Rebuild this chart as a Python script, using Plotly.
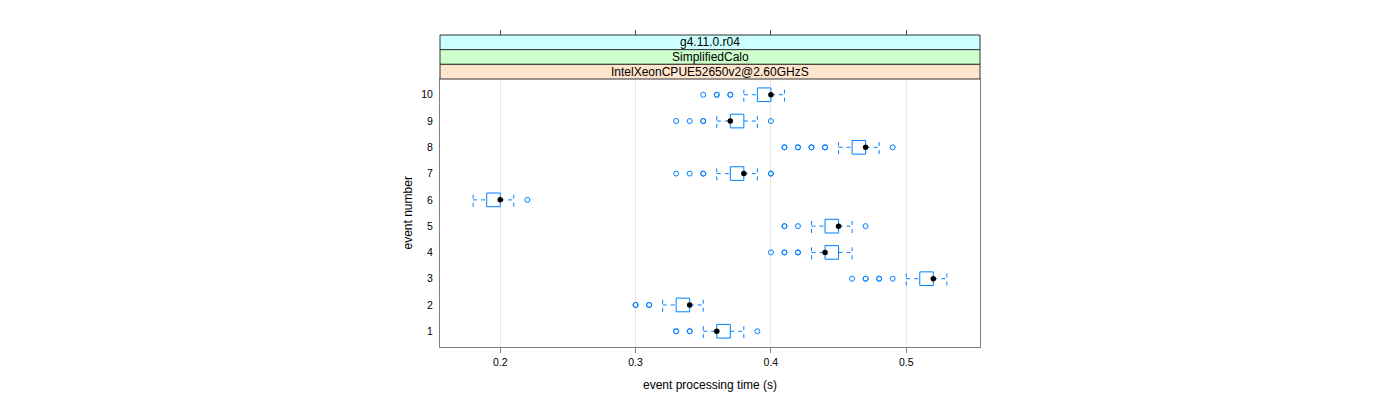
import plotly.graph_objects as go

# ---- data ----
events = [1, 2, 3, 4, 5, 6, 7, 8, 9, 10]
lower_whisker = [0.35, 0.32, 0.50, 0.43, 0.43, 0.18, 0.36, 0.45, 0.36, 0.38]
q1 = [0.36, 0.33, 0.51, 0.44, 0.44, 0.19, 0.37, 0.46, 0.37, 0.39]
median = [0.36, 0.34, 0.52, 0.44, 0.45, 0.20, 0.38, 0.47, 0.37, 0.40]
q3 = [0.37, 0.34, 0.52, 0.45, 0.45, 0.20, 0.38, 0.47, 0.38, 0.40]
upper_whisker = [0.38, 0.35, 0.53, 0.46, 0.46, 0.21, 0.39, 0.48, 0.39, 0.41]
outliers = {
    1: [0.33, 0.33, 0.34, 0.34, 0.39],
    2: [0.30, 0.30, 0.31, 0.31],
    3: [0.46, 0.47, 0.47, 0.48, 0.48, 0.49],
    4: [0.40, 0.41, 0.41, 0.42, 0.42],
    5: [0.41, 0.41, 0.42, 0.47],
    6: [0.22],
    7: [0.33, 0.34, 0.35, 0.35, 0.40, 0.40],
    8: [0.41, 0.41, 0.42, 0.42, 0.43, 0.43, 0.44, 0.44, 0.49],
    9: [0.33, 0.34, 0.35, 0.35, 0.40],
    10: [0.35, 0.36, 0.36, 0.37, 0.37],
}
strip_labels = ["g4.11.0.r04", "SimplifiedCalo", "IntelXeonCPUE52650v2@2.60GHzS"]
strip_colors = ["#ccffff", "#ccffcc", "#ffe5cc"]
x_ticks = [0.2, 0.3, 0.4, 0.5]
x_title = "event processing time (s)"
y_title = "event number"

# ---- styling ----
BLUE = "#0080ff"
FONT = "Liberation Sans, Arial, sans-serif"
H = 0.26  # half box height in y units

# box rectangles
bx, by = [], []
for e, a, b in zip(events, q1, q3):
    bx += [a, b, b, a, a, None]
    by += [e - H, e - H, e + H, e + H, e - H, None]

# whiskers (dashed) incl. end staples
wx, wy = [], []
for e, lo, a, b, hi in zip(events, lower_whisker, q1, q3, upper_whisker):
    wx += [lo, a, None, b, hi, None, lo, lo, None, hi, hi, None]
    wy += [e, e, None, e, e, None, e - H, e + H, None, e - H, e + H, None]

ox, oy = [], []
for e in events:
    for v in outliers[e]:
        ox.append(v)
        oy.append(e)

fig = go.Figure()
fig.add_trace(go.Scatter(x=wx, y=wy, mode="lines",
                         line=dict(color=BLUE, width=1, dash="4px,4px"),
                         hoverinfo="skip", showlegend=False))
fig.add_trace(go.Scatter(x=bx, y=by, mode="lines",
                         line=dict(color=BLUE, width=1),
                         hoverinfo="skip", showlegend=False))
fig.add_trace(go.Scatter(x=ox, y=oy, mode="markers",
                         marker=dict(symbol="circle-open", size=5, color=BLUE,
                                     line=dict(width=1, color=BLUE)),
                         showlegend=False))
fig.add_trace(go.Scatter(x=median, y=events, mode="markers",
                         marker=dict(symbol="circle", size=5.5, color="black"),
                         showlegend=False))

# dummy trace for the top axis
fig.add_trace(go.Scatter(x=[None], y=[None], xaxis="x2", showlegend=False))

# page body has an 8px margin, so margins are offset to land on target pixels
ML, MR, MT, MB = 432, 428, 27, 61
plot_h = 268
total_h = 400 - MT - MB
plot_top = plot_h / total_h
plot_w = 1400 - ML - MR

fig.update_layout(
    width=1400, height=400,
    margin=dict(l=ML, r=MR, t=MT, b=MB),
    plot_bgcolor="white", paper_bgcolor="white",
    font=dict(family=FONT, size=12, color="black"),
    xaxis=dict(range=[0.1555, 0.5545], tickvals=x_ticks,
               ticktext=[str(t) for t in x_ticks],
               ticks="outside", ticklen=5, tickcolor="#808080",
               tickfont=dict(size=10.5),
               showline=True, linecolor="#808080", linewidth=1, mirror=True,
               showgrid=True, gridcolor="#e8e8e8", gridwidth=1,
               zeroline=False),
    xaxis2=dict(range=[0.1555, 0.5545], tickvals=x_ticks, overlaying="x",
                anchor="free", position=1.0, side="top",
                ticks="outside", ticklen=5, tickcolor="#505050",
                showticklabels=False, showgrid=False, showline=False,
                zeroline=False),
    yaxis=dict(domain=[0, plot_top], range=[0.4, 10.6], tickvals=events,
               ticktext=[str(e) for e in events], ticks="",
               ticklabelstandoff=4, tickfont=dict(size=10.5),
               showline=True, linecolor="#808080", linewidth=1, mirror=True,
               showgrid=False, zeroline=False),
)

# axis titles
fig.add_annotation(xref="paper", yref="paper", x=0.5,
                   y=-38 / total_h, text=x_title, showarrow=False,
                   xanchor="center", yanchor="middle", font=dict(size=12))
fig.add_annotation(xref="paper", yref="paper", x=-32.5 / plot_w,
                   y=(plot_h / 2) / total_h, text=y_title, showarrow=False,
                   textangle=-90, xanchor="center", yanchor="middle",
                   font=dict(size=12))

# strips
n = len(strip_labels)
sh = (1 - plot_top) / n
for i, (lab, col) in enumerate(zip(strip_labels, strip_colors)):
    y1 = 1 - i * sh
    y0 = y1 - sh
    fig.add_shape(type="rect", xref="paper", yref="paper", x0=0, x1=1,
                  y0=y0, y1=y1, fillcolor=col,
                  line=dict(color="#333333", width=1), layer="above")
    fig.add_annotation(xref="paper", yref="paper", x=0.5, y=(y0 + y1) / 2,
                       text=lab, showarrow=False, xanchor="center",
                       yanchor="middle",
                       font=dict(size=12, color="black", family=FONT))

fig.write_html("out.html")
